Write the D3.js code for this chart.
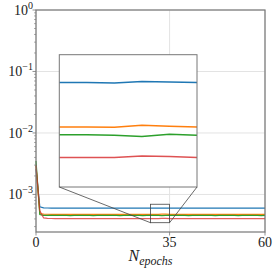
<!DOCTYPE html>
<html>
<head>
<meta charset="utf-8">
<script src="https://cdn.jsdelivr.net/npm/d3@7"></script>
<style>
  body { margin: 0; background: #fff; }
  text { font-family: "Liberation Serif", "DejaVu Serif", serif; fill: #222; }
</style>
</head>
<body>
<svg id="chart"></svg>
<script>
// epochs 0..60
var epochs = d3.range(0, 61);

var blueLoss = [2.6e-3, 6.3e-4, 6.05e-4, 6.02e-4, 6.01e-4, 6.0e-4, 6.0e-4, 6.01e-4, 6.0e-4, 5.99e-4,
  6.0e-4, 6.0e-4, 6.01e-4, 6.0e-4, 5.99e-4, 6.0e-4, 6.0e-4, 6.01e-4, 6.0e-4, 6.0e-4,
  5.99e-4, 6.0e-4, 6.0e-4, 6.01e-4, 6.0e-4, 5.99e-4, 6.0e-4, 6.0e-4, 6.0e-4, 5.99e-4,
  5.99e-4, 5.99e-4, 5.98e-4, 6.02e-4, 6.01e-4, 5.99e-4, 6.0e-4, 6.0e-4, 6.01e-4, 6.0e-4,
  6.0e-4, 5.99e-4, 6.0e-4, 6.0e-4, 6.01e-4, 6.0e-4, 6.0e-4, 5.99e-4, 6.0e-4, 6.0e-4,
  6.0e-4, 6.01e-4, 6.0e-4, 6.0e-4, 5.99e-4, 6.0e-4, 6.0e-4, 6.0e-4, 6.01e-4, 6.0e-4, 6.0e-4];

var orangeLoss = [2.9e-3, 4.9e-4, 4.78e-4, 4.76e-4, 4.75e-4, 4.75e-4, 4.76e-4, 4.75e-4, 4.74e-4, 4.75e-4,
  4.75e-4, 4.76e-4, 4.75e-4, 4.75e-4, 4.74e-4, 4.75e-4, 4.75e-4, 4.76e-4, 4.75e-4, 4.75e-4,
  4.75e-4, 4.74e-4, 4.75e-4, 4.76e-4, 4.75e-4, 4.75e-4, 4.75e-4, 4.74e-4, 4.75e-4, 4.75e-4,
  4.75e-4, 4.75e-4, 4.74e-4, 4.79e-4, 4.77e-4, 4.75e-4, 4.75e-4, 4.76e-4, 4.75e-4, 4.75e-4,
  4.74e-4, 4.75e-4, 4.75e-4, 4.76e-4, 4.75e-4, 4.75e-4, 4.75e-4, 4.74e-4, 4.75e-4, 4.75e-4,
  4.76e-4, 4.75e-4, 4.75e-4, 4.75e-4, 4.74e-4, 4.75e-4, 4.75e-4, 4.76e-4, 4.75e-4, 4.75e-4, 4.75e-4];

var greenLoss = [3.5e-3, 4.7e-4, 4.58e-4, 4.56e-4, 4.55e-4, 4.55e-4, 4.56e-4, 4.55e-4, 4.55e-4, 4.54e-4,
  4.55e-4, 4.55e-4, 4.56e-4, 4.55e-4, 4.55e-4, 4.54e-4, 4.55e-4, 4.55e-4, 4.56e-4, 4.55e-4,
  4.55e-4, 4.55e-4, 4.54e-4, 4.55e-4, 4.56e-4, 4.55e-4, 4.55e-4, 4.55e-4, 4.54e-4, 4.56e-4,
  4.56e-4, 4.56e-4, 4.55e-4, 4.52e-4, 4.57e-4, 4.55e-4, 4.55e-4, 4.56e-4, 4.55e-4, 4.55e-4,
  4.54e-4, 4.55e-4, 4.55e-4, 4.56e-4, 4.55e-4, 4.55e-4, 4.55e-4, 4.54e-4, 4.55e-4, 4.56e-4,
  4.55e-4, 4.55e-4, 4.55e-4, 4.54e-4, 4.55e-4, 4.56e-4, 4.55e-4, 4.55e-4, 4.55e-4, 4.54e-4, 4.55e-4];

var redLoss = [3.0e-3, 5.4e-4, 4.15e-4, 4.07e-4, 4.06e-4, 4.05e-4, 4.05e-4, 4.06e-4, 4.05e-4, 4.05e-4,
  4.04e-4, 4.05e-4, 4.05e-4, 4.06e-4, 4.05e-4, 4.05e-4, 4.05e-4, 4.04e-4, 4.05e-4, 4.05e-4,
  4.06e-4, 4.05e-4, 4.05e-4, 4.05e-4, 4.04e-4, 4.05e-4, 4.05e-4, 4.06e-4, 4.05e-4, 4.05e-4,
  4.05e-4, 4.05e-4, 4.05e-4, 4.08e-4, 4.07e-4, 4.05e-4, 4.05e-4, 4.06e-4, 4.05e-4, 4.05e-4,
  4.04e-4, 4.05e-4, 4.05e-4, 4.06e-4, 4.05e-4, 4.05e-4, 4.05e-4, 4.04e-4, 4.05e-4, 4.05e-4,
  4.06e-4, 4.05e-4, 4.05e-4, 4.05e-4, 4.04e-4, 4.05e-4, 4.05e-4, 4.06e-4, 4.05e-4, 4.05e-4, 4.05e-4];

var seriesColors = ["#1f77b4", "#ff7f0e", "#2ca02c", "#d62728"];
var xTicks = [0, 35, 60];
var yTickExps = [0, -1, -2, -3];
var insetX = [30, 35];
var insetY = [3.47e-4, 6.93e-4];

var allSeries = [blueLoss, orangeLoss, greenLoss, redLoss];

var margin = {top: 10, right: 13, bottom: 41, left: 36},
    width = 278 - margin.left - margin.right,
    height = 273 - margin.top - margin.bottom;

var svg = d3.select("#chart")
  .attr("width", 278)
  .attr("height", 273)
  .append("g")
    .attr("transform", "translate(" + margin.left + "," + margin.top + ")");

var x = d3.scaleLinear().domain([0, 60]).range([0, width]);
var y = d3.scaleLog().domain([2.45e-4, 1]).range([height, 0]);

// grid
svg.selectAll(".hgrid")
  .data(yTickExps)
  .enter().append("line")
    .attr("x1", 0).attr("x2", width)
    .attr("y1", function(d) { return y(Math.pow(10, d)); })
    .attr("y2", function(d) { return y(Math.pow(10, d)); })
    .attr("stroke", "#e3e3e3").attr("stroke-width", 1);
svg.selectAll(".vgrid")
  .data(xTicks)
  .enter().append("line")
    .attr("x1", function(d) { return x(d); })
    .attr("x2", function(d) { return x(d); })
    .attr("y1", 0).attr("y2", height)
    .attr("stroke", "#e3e3e3").attr("stroke-width", 1);

// main lines
var line = d3.line()
  .x(function(d, i) { return x(epochs[i]); })
  .y(function(d) { return y(d); });

svg.selectAll(".series")
  .data(allSeries)
  .enter().append("path")
    .attr("d", line)
    .attr("fill", "none")
    .attr("stroke", function(d, i) { return seriesColors[i]; })
    .attr("stroke-width", 1.2)
    .attr("opacity", function(d, i) { return i == 3 ? 0.75 : 1; });

// inset placement (inside the main axes)
var ins = {x0: 23.3, x1: 161, y0: 44.7, y1: 177};
var xi = d3.scaleLinear().domain(insetX).range([ins.x0, ins.x1]);
var yi = d3.scaleLog().domain(insetY).range([ins.y1, ins.y0]);

svg.append("rect")
  .attr("x", ins.x0).attr("y", ins.y0)
  .attr("width", ins.x1 - ins.x0).attr("height", ins.y1 - ins.y0)
  .attr("fill", "#fff");

svg.append("clipPath").attr("id", "insclip")
  .append("rect")
    .attr("x", ins.x0).attr("y", ins.y0)
    .attr("width", ins.x1 - ins.x0).attr("height", ins.y1 - ins.y0);

var lineInset = d3.line()
  .x(function(d) { return xi(d.e); })
  .y(function(d) { return yi(d.v); });

svg.append("g").attr("clip-path", "url(#insclip)")
  .selectAll("path")
  .data(allSeries)
  .enter().append("path")
    .attr("d", function(s) {
      return lineInset(s.map(function(v, i) { return {e: epochs[i], v: v}; })
        .filter(function(p) { return p.e >= 29 && p.e <= 36; }));
    })
    .attr("fill", "none")
    .attr("stroke", function(d, i) { return seriesColors[i]; })
    .attr("stroke-width", 1.5)
    .attr("opacity", function(d, i) { return i == 3 ? 0.8 : 1; });

svg.append("rect")
  .attr("x", ins.x0).attr("y", ins.y0)
  .attr("width", ins.x1 - ins.x0).attr("height", ins.y1 - ins.y0)
  .attr("fill", "none").attr("stroke", "#777").attr("stroke-width", 1);

// zoom box and connectors
svg.append("rect")
  .attr("x", x(insetX[0])).attr("y", y(insetY[1]))
  .attr("width", x(insetX[1]) - x(insetX[0]))
  .attr("height", y(insetY[0]) - y(insetY[1]))
  .attr("fill", "none").attr("stroke", "#444").attr("stroke-width", 0.8);

svg.append("line")
  .attr("x1", ins.x0).attr("y1", ins.y1)
  .attr("x2", x(insetX[0])).attr("y2", y(insetY[0]))
  .attr("stroke", "#444").attr("stroke-width", 0.8);
svg.append("line")
  .attr("x1", ins.x1).attr("y1", ins.y1)
  .attr("x2", x(insetX[1])).attr("y2", y(insetY[0]))
  .attr("stroke", "#444").attr("stroke-width", 0.8);

// axes frame
svg.append("rect")
  .attr("x", 0).attr("y", 0).attr("width", width).attr("height", height)
  .attr("fill", "none").attr("stroke", "#777").attr("stroke-width", 1.2);

// y ticks (major + minor)
var minor = [];
for (var e = -4; e < 0; e++) {
  for (var m = 2; m <= 9; m++) {
    var v = m * Math.pow(10, e);
    if (v >= y.domain()[0]) minor.push(v);
  }
}
svg.selectAll(".ymin")
  .data(minor)
  .enter().append("line")
    .attr("x1", -2).attr("x2", 0)
    .attr("y1", function(d) { return y(d); })
    .attr("y2", function(d) { return y(d); })
    .attr("stroke", "#777").attr("stroke-width", 0.6);
svg.selectAll(".ymaj")
  .data(yTickExps)
  .enter().append("line")
    .attr("x1", -3.5).attr("x2", 0)
    .attr("y1", function(d) { return y(Math.pow(10, d)); })
    .attr("y2", function(d) { return y(Math.pow(10, d)); })
    .attr("stroke", "#777").attr("stroke-width", 0.8);

var ylab = svg.selectAll(".ylab")
  .data(yTickExps)
  .enter().append("text")
    .attr("x", -3)
    .attr("y", function(d) { return y(Math.pow(10, d)) + 5; })
    .attr("text-anchor", "end")
    .style("font-size", "14px");
ylab.append("tspan").text("10");
ylab.append("tspan")
  .attr("dy", -6)
  .style("font-size", "10px")
  .text(function(d) { return d == 0 ? "0" : "\u2212" + (-d); });

// x ticks
svg.selectAll(".xtick")
  .data(xTicks)
  .enter().append("line")
    .attr("x1", function(d) { return x(d); })
    .attr("x2", function(d) { return x(d); })
    .attr("y1", height).attr("y2", height + 3.5)
    .attr("stroke", "#777").attr("stroke-width", 0.8);
svg.selectAll(".xlab")
  .data(xTicks)
  .enter().append("text")
    .attr("x", function(d) { return x(d); })
    .attr("y", height + 15)
    .attr("text-anchor", "middle")
    .style("font-size", "14px")
    .text(function(d) { return d; });

// x label
var xl = svg.append("text")
  .attr("x", width / 2)
  .attr("y", height + 29)
  .attr("text-anchor", "middle")
  .style("font-size", "16px")
  .style("font-style", "italic");
xl.append("tspan").text("N");
xl.append("tspan").attr("dy", 4).style("font-size", "12px").text("epochs");
</script>
</body>
</html>
